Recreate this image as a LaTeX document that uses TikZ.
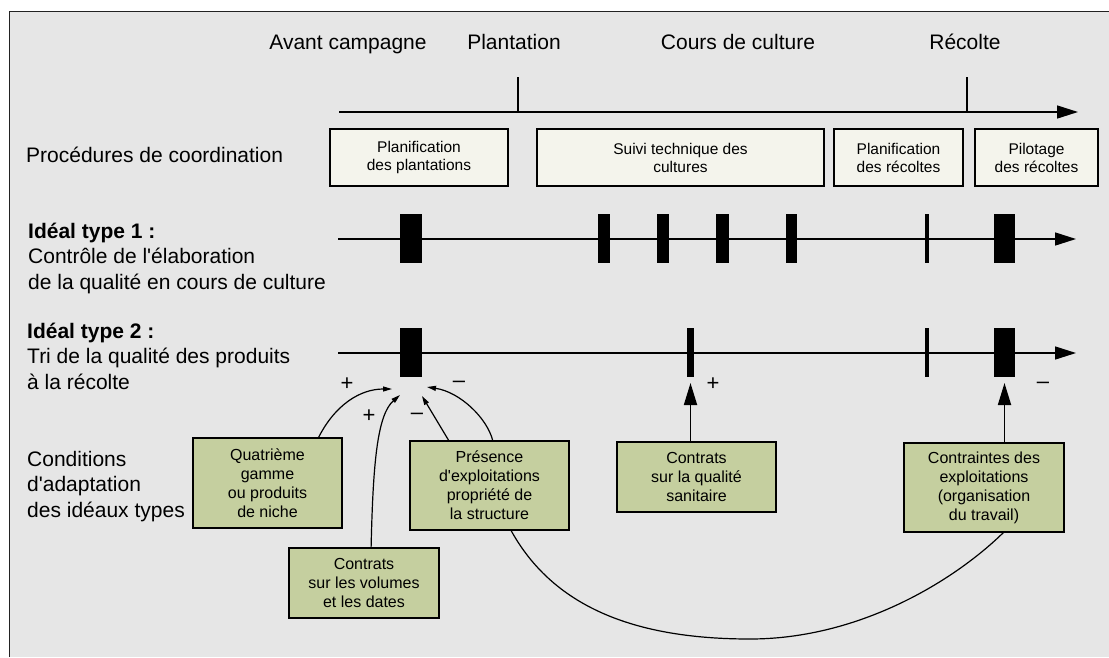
\documentclass[tikz,border=0pt]{standalone}
\usepackage{fontspec}
\setmainfont{Liberation Sans}
\usetikzlibrary{arrows.meta,calc}
\definecolor{bggrey}{HTML}{E6E6E6}
\definecolor{boxlight}{HTML}{F4F4EC}
\definecolor{boxgreen}{HTML}{C5CF9F}
\definecolor{framecol}{HTML}{222222}
\begin{document}
\begin{tikzpicture}[x=1pt,y=-1pt,
  lbl/.style={font=\fontsize{21}{25.3}\selectfont, inner sep=0pt, anchor=base west, align=left},
  toplbl/.style={font=\fontsize{21}{25.3}\selectfont, inner sep=0pt, anchor=base},
  procbox/.style={draw=black, line width=1.2pt, fill=boxlight, inner sep=0pt, align=center,
    font=\fontsize{15.5}{18}\selectfont, minimum height=57pt},
  condbox/.style={draw=black, line width=1.2pt, fill=boxgreen, inner sep=0pt, align=center,
    font=\fontsize{16}{19}\selectfont},
  bar/.style={fill=black, inner sep=0pt, minimum height=49pt},
  timeline/.style={line width=1.5pt, -{Triangle[length=21pt,width=13pt]}},
  tickline/.style={line width=1.2pt},
  infl/.style={line width=1.2pt, -{Triangle[length=9pt,width=5pt]}},
  uparrow/.style={line width=1.8pt, -{Triangle[length=22pt,width=13pt]}},
  sign/.style={font=\fontsize{22}{24}\selectfont, inner sep=0pt},
]
\useasboundingbox (0,0) rectangle (1109,657);
\fill[white] (0,0) rectangle (1109,657);
\fill[bggrey] (9.5,11.5) rectangle (1109,657);
\draw[framecol, line width=1.5pt] (9.5,657) -- (9.5,11.5) -- (1109,11.5);

% top phase labels
\node[toplbl] (avc) at (348,49) {Avant campagne};
\node[toplbl] (plt) at (514,49) {Plantation};
\node[toplbl] (cdc) at (738,49) {Cours de culture};
\node[toplbl] (rec) at (965,49) {Récolte};

% top timeline
\coordinate (t0s) at (339,112);
\coordinate (t0e) at (1078,112);
\coordinate (k1t) at (518,77);
\coordinate (k1b) at (518,112);
\coordinate (k2t) at (967,77);
\coordinate (k2b) at (967,112);
\draw[timeline] (t0s) -- (t0e);
\draw[tickline] (k1t) -- (k1b);
\draw[tickline] (k2t) -- (k2b);

% procedures
\node[lbl] (proc) at (26,162) {Procédures de coordination};
\node[procbox, minimum width=178pt] (pp) at (419,157.5) {Planification\\des plantations};
\node[procbox, minimum width=287pt] (st) at (680.5,157.5) {Suivi technique des\\cultures};
\node[procbox, minimum width=129pt] (pr) at (898.5,157.5) {Planification\\des récoltes};
\node[procbox, minimum width=123pt] (pi) at (1036.5,157.5) {Pilotage\\des récoltes};

% ideal type 1
\node[lbl] (it1) at (28,289) {\textbf{Idéal type 1 :}\\Contrôle de l\textquotesingle élaboration\\de la qualité en cours de culture};
\coordinate (t1s) at (338,239);
\coordinate (t1e) at (1076,239);
\draw[timeline] (t1s) -- (t1e);
\node[bar, minimum width=21.7pt] (b1a) at (410.8,238.5) {};
\node[bar, minimum width=12pt] (b1b) at (604,238.5) {};
\node[bar, minimum width=12pt] (b1c) at (663,238.5) {};
\node[bar, minimum width=13pt] (b1d) at (722.5,238.5) {};
\node[bar, minimum width=11pt] (b1e) at (791.5,238.5) {};
\node[bar, minimum width=4pt] (b1f) at (927,238.5) {};
\node[bar, minimum width=21pt] (b1g) at (1004.5,238.5) {};

% ideal type 2
\node[lbl] (it2) at (27,389) {\textbf{Idéal type 2 :}\\Tri de la qualité des produits\\à la récolte};
\coordinate (t2s) at (338,353);
\coordinate (t2e) at (1076,353);
\draw[timeline] (t2s) -- (t2e);
\node[bar, minimum width=21.7pt] (b2a) at (410.8,352.5) {};
\node[bar, minimum width=7pt] (b2b) at (690.5,352.5) {};
\node[bar, minimum width=4pt] (b2c) at (927,352.5) {};
\node[bar, minimum width=21pt] (b2d) at (1004.5,352.5) {};

% conditions
\node[lbl] (cond) at (27,517) {Conditions\\d\textquotesingle adaptation\\des idéaux types};
\node[condbox, minimum width=149pt, minimum height=90pt] (q) at (267.5,483) {Quatrième\\gamme\\ou produits\\de niche};
\node[condbox, minimum width=150pt, minimum height=70pt] (v) at (364,583) {Contrats\\sur les volumes\\et les dates};
\node[condbox, minimum width=159pt, minimum height=89pt] (p) at (489.5,485.5) {Présence\\d\textquotesingle exploitations\\propriété de\\la structure};
\node[condbox, minimum width=159pt, minimum height=70pt] (s) at (696.5,477) {Contrats\\sur la qualité\\sanitaire};
\node[condbox, minimum width=160pt, minimum height=89pt] (ct) at (984,487.5) {Contraintes des\\exploitations\\(organisation\\du travail)};

% influence arrows
\coordinate (tq) at (392,389);
\coordinate (tv) at (400,395);
\coordinate (tp1) at (422,396);
\coordinate (tp2) at (427,387);
\coordinate (ts) at (690.5,383);
\coordinate (tc) at (1004.5,383);
\coordinate (cb) at (750,639);
\draw[infl] ($(q.north west)!0.84!(q.north east)$) .. controls (335,405) and (360,389) .. (tq);
\draw[infl] ($(v.north west)!0.547!(v.north east)$) .. controls (373,465) and (377,415) .. (tv);
\draw[infl] ($(p.north west)!0.245!(p.north east)$) -- (tp1);
\draw[infl] ($(p.north west)!0.52!(p.north east)$) .. controls (487,418) and (460,392) .. (tp2);
\draw[uparrow] (s.north -| ts) -- (ts);
\draw[uparrow] (ct.north -| tc) -- (tc);
\draw[line width=1.2pt] ($(p.south west)!0.635!(p.south east)$) .. controls (555,610) and (640,639) .. (cb)
  .. controls (860,639) and (955,580) .. ($(ct.south west)!0.62!(ct.south east)$);

% signs
\node[sign] (sg1) at (347,384) {+};
\node[sign] (sg2) at (369,416) {+};
\node[sign] (sg3) at (459,384) {–};
\node[sign] (sg4) at (417,416) {–};
\node[sign] (sg5) at (713,384) {+};
\node[sign] (sg6) at (1043,385) {–};
\end{tikzpicture}
\end{document}
